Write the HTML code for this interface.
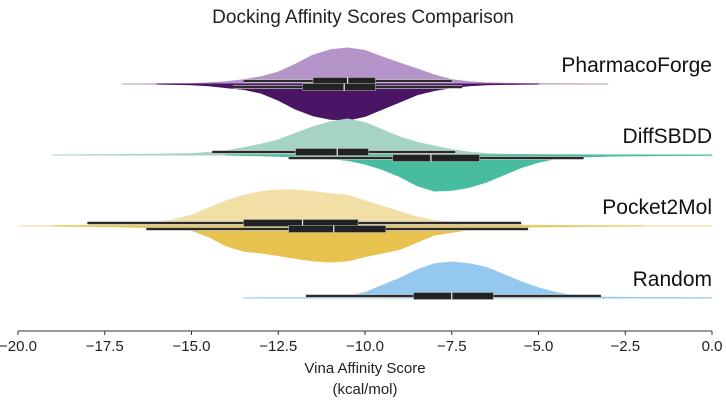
<!DOCTYPE html>
<html><head><meta charset="utf-8"><style>
body{margin:0;background:#fff}
svg{display:block;font-family:"Liberation Sans",sans-serif}
</style></head><body>
<svg id="chart" width="726" height="401"></svg>
<script>
const groups=["PharmacoForge","DiffSBDD","Pocket2Mol","Random"];
const upperColors=["#b594c9","#a5d3c4","#f2dfa5","#94c8ef"];
const lowerColors=["#4a1565","#48bc9f","#e8c24f",null];
const xTicks=[-20,-17.5,-15,-12.5,-10,-7.5,-5,-2.5,0];
const xTickLabels=["−20.0","−17.5","−15.0","−12.5","−10.0","−7.5","−5.0","−2.5","0.0"];
// density shapes: [x, relative density]
const densPFUpper=[[-17,0],[-15,0.01],[-14.5,0.03],[-14,0.06],[-13.5,0.12],[-13,0.2],[-12.5,0.33],[-12,0.55],[-11.5,0.8],[-11,0.95],[-10.5,1],[-10,0.93],[-9.5,0.75],[-9,0.58],[-8.5,0.42],[-8,0.25],[-7.5,0.12],[-7,0.06],[-6.5,0.03],[-6,0.02],[-5.5,0.01],[-3,0]];
const densPFLower=[[-16,0],[-15,0.02],[-14.5,0.05],[-14,0.1],[-13.5,0.15],[-13,0.25],[-12.5,0.45],[-12,0.7],[-11.5,0.88],[-11,0.98],[-10.5,1],[-10,0.9],[-9.5,0.7],[-9,0.5],[-8.5,0.3],[-8,0.18],[-7.5,0.1],[-7,0.05],[-6.5,0.02],[-6,0.01],[-5,0]];
const densDSUpper=[[-19,0],[-17,0.01],[-16,0.02],[-15,0.04],[-14.5,0.07],[-14,0.12],[-13.5,0.2],[-13,0.3],[-12.5,0.42],[-12,0.6],[-11.5,0.78],[-11,0.92],[-10.5,1],[-10,0.9],[-9.5,0.7],[-9,0.5],[-8.5,0.35],[-8,0.25],[-7.5,0.15],[-7,0.08],[-6.5,0.04],[-6,0.02],[-5,0.01],[-3,0]];
const densDSLower=[[-14,0],[-13,0.02],[-12,0.05],[-11,0.1],[-10.5,0.15],[-10,0.25],[-9.5,0.4],[-9,0.6],[-8.5,0.85],[-8,1],[-7.5,0.98],[-7,0.9],[-6.5,0.75],[-6,0.55],[-5.5,0.35],[-5,0.2],[-4.5,0.1],[-4,0.06],[-3,0.03],[-2,0.02],[-1,0.01],[0,0.005]];
const densP2Upper=[[-20,0],[-19,0.01],[-18,0.02],[-17,0.05],[-16,0.1],[-15.5,0.18],[-15,0.3],[-14.5,0.5],[-14,0.7],[-13.5,0.85],[-13,0.95],[-12.5,1],[-12,1],[-11.5,0.95],[-11,0.9],[-10.5,0.85],[-10,0.7],[-9.5,0.55],[-9,0.4],[-8.5,0.25],[-8,0.15],[-7,0.07],[-6,0.03],[-5,0.02],[-4,0.01],[0,0.003]];
const densP2Lower=[[-19,0],[-17,0.02],[-16,0.05],[-15,0.12],[-14.5,0.3],[-14,0.55],[-13.5,0.7],[-13,0.75],[-12.5,0.82],[-12,0.9],[-11.5,0.97],[-11,1],[-10.5,0.97],[-10,0.85],[-9.5,0.75],[-9,0.65],[-8.5,0.45],[-8,0.25],[-7,0.1],[-6,0.04],[-5,0.02],[-4,0.01],[-2,0]];
const densRDUpper=[[-13.5,0],[-13,0.005],[-11,0.01],[-10.5,0.05],[-10,0.15],[-9.5,0.35],[-9,0.55],[-8.5,0.78],[-8,0.95],[-7.5,1],[-7,0.95],[-6.5,0.85],[-6,0.65],[-5.5,0.45],[-5,0.28],[-4.5,0.15],[-4,0.07],[-3.5,0.03],[-3,0.02],[-2,0.01],[0,0.005]];
const upperDens=[densPFUpper,densDSUpper,densP2Upper,densRDUpper];
const lowerDens=[densPFLower,densDSLower,densP2Lower,null];
// box stats: [whiskerLo, q1, median, q3, whiskerHi]
const boxUpper=[[-13.5,-11.5,-10.5,-9.7,-7.5],[-14.4,-12,-10.8,-9.9,-7.4],[-18,-13.5,-11.8,-10.2,-5.5],[-11.7,-8.6,-7.5,-6.3,-3.2]];
const boxLower=[[-13.8,-11.8,-10.6,-9.7,-7.2],[-12.2,-9.2,-8.1,-6.7,-3.7],[-16.3,-12.2,-10.9,-9.4,-5.3],null];

const NS="http://www.w3.org/2000/svg";
const svg=document.getElementById('chart');
const X0=18,X1=712,AXY=331;
const xs=v=>X0+(v+20)/20*(X1-X0);
const baselines=[84,155,226,298];
const H=36;
function mk(t,a,p){const e=document.createElementNS(NS,t);for(const k in a)e.setAttribute(k,a[k]);(p||svg).appendChild(e);return e;}

const title=mk('text',{x:363,y:23,'text-anchor':'middle','font-size':19,fill:'#222'});
title.textContent='Docking Affinity Scores Comparison';



function violin(d,base,sign,color,name){
  let s=`M${xs(d[0][0])},${base}`;
  d.forEach(p=>{s+=` L${xs(p[0]).toFixed(1)},${(base-sign*p[1]*H).toFixed(1)}`;});
  s+=` L${xs(d[d.length-1][0])},${base} Z`;
  const e=mk('path',{d:s,fill:color,stroke:color,'stroke-width':1,'stroke-linejoin':'round'});
  
  
}
function box(b,y,name){
  const g=mk('g',{});
  
  
  mk('line',{x1:xs(b[0]),x2:xs(b[4]),y1:y,y2:y,stroke:'#bbb','stroke-width':3.5},g);
  mk('line',{x1:xs(b[0]),x2:xs(b[4]),y1:y,y2:y,stroke:'#2a2a2a','stroke-width':2},g);
  mk('rect',{x:xs(b[1]),y:y-3.5,width:xs(b[3])-xs(b[1]),height:7,fill:'#222',stroke:'#bbb','stroke-width':0.5},g);
  mk('line',{x1:xs(b[2]),x2:xs(b[2]),y1:y-3.5,y2:y+3.5,stroke:'#eee','stroke-width':1.2},g);
}
groups.forEach((g,i)=>{
  const b=baselines[i];
  violin(upperDens[i],b,1,upperColors[i],'violin-upper-'+g.toLowerCase());
  if(lowerDens[i]) violin(lowerDens[i],b,-1,lowerColors[i],'violin-lower-'+g.toLowerCase());
  box(boxUpper[i],lowerDens[i]?b-3:b-2,'box-upper-'+g.toLowerCase());
  if(boxLower[i]) box(boxLower[i],b+3,'box-lower-'+g.toLowerCase());
  const t=mk('text',{x:712,y:b-12,'text-anchor':'end','font-size':21,fill:'#111'});
  t.textContent=g;
  
  
});
const ax=mk('line',{x1:X0,x2:X1,y1:AXY,y2:AXY,stroke:'#333','stroke-width':1});


xTicks.forEach((v,i)=>{
  mk('line',{x1:xs(v),x2:xs(v),y1:AXY,y2:AXY+4,stroke:'#333'});
  const t=mk('text',{x:xs(v),y:AXY+20,'text-anchor':'middle','font-size':15,fill:'#222'});
  t.textContent=xTickLabels[i];
  
  
});
const l1=mk('text',{x:365,y:373,'text-anchor':'middle','font-size':15,fill:'#222'});
l1.textContent='Vina Affinity Score';


const l2=mk('text',{x:365,y:394,'text-anchor':'middle','font-size':15,fill:'#222'});
l2.textContent='(kcal/mol)';


</script>
</body></html>
